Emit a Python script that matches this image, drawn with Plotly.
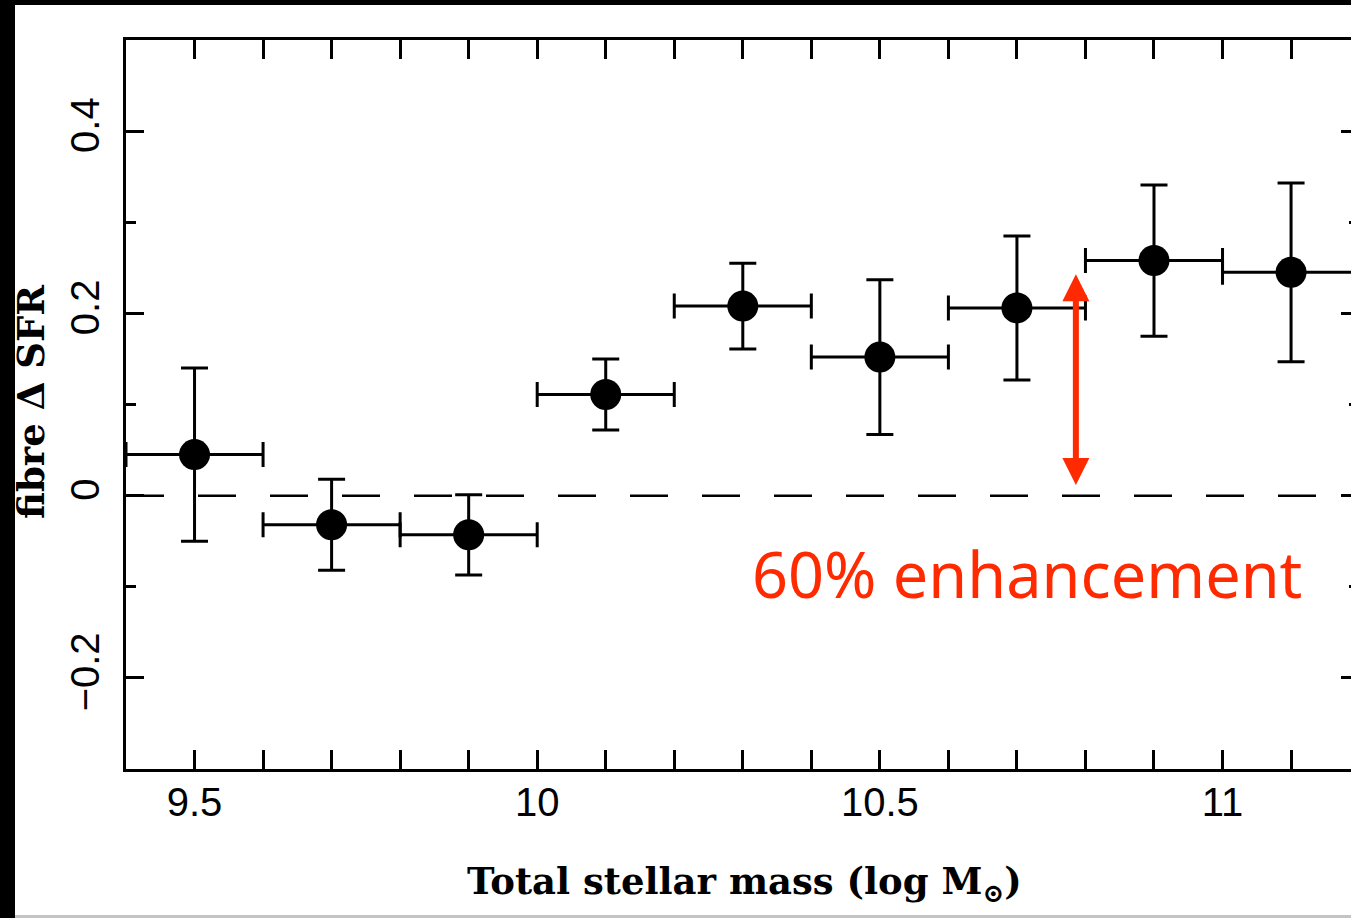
import plotly.graph_objects as go

# Binned total stellar mass (bin centres, half-width of each bin)
mass = [9.5, 9.7, 9.9, 10.1, 10.3, 10.5, 10.7, 10.9, 11.1]
mass_halfwidth = [0.1, 0.1, 0.1, 0.1, 0.1, 0.1, 0.1, 0.1, 0.1]

# Mean fibre delta SFR in each bin and its 1-sigma error
dsfr = [0.045, -0.032, -0.043, 0.111, 0.208, 0.152, 0.206, 0.258, 0.245]
dsfr_err = [0.095, 0.050, 0.044, 0.039, 0.047, 0.085, 0.079, 0.083, 0.098]

# Enhancement arrow (x position, from / to in delta SFR)
arrow_x = 10.786
arrow_from = 0.0
arrow_to = 0.258

x_tickvals = [9.5, 10, 10.5, 11]
x_ticktext = ["9.5", "10", "10.5", "11"]
y_tickvals = [-0.2, 0, 0.2, 0.4]
y_ticktext = ["\u22120.2", "0", "0.2", "0.4"]

W, H = 1351, 918
ML, MT, MB, MR = 126, 40, 149, 0
PW, PH = W - ML - MR, H - MT - MB

X_RANGE = [9.4, 9.4 + PW / 685.33]
Y_RANGE = [-0.3, 0.5]


def px_x(p):
    return (p - ML) / PW


def px_y(p):
    return (H - MB - p) / PH


fig = go.Figure()

fig.add_trace(go.Scatter(
    x=mass, y=dsfr, mode="markers",
    marker=dict(size=31, color="black"),
    error_x=dict(type="data", array=mass_halfwidth, thickness=3, width=12.5, color="black"),
    error_y=dict(type="data", array=dsfr_err, thickness=3, width=13.5, color="black"),
    showlegend=False, hoverinfo="skip",
))
# carrier for the right-hand tick axis
fig.add_trace(go.Scatter(
    x=mass, y=dsfr, yaxis="y2", mode="markers",
    marker=dict(opacity=0), showlegend=False, hoverinfo="skip",
))

axis_font = dict(family="Liberation Sans", size=40, color="black")

fig.update_layout(
    width=W, height=H,
    margin=dict(l=ML, r=MR, t=MT, b=MB, pad=0),
    paper_bgcolor="white", plot_bgcolor="white",
    xaxis=dict(
        range=X_RANGE, showgrid=False, zeroline=False,
        showline=True, linecolor="black", linewidth=3, mirror="allticks",
        ticks="inside", ticklen=19, tickwidth=3, tickcolor="black",
        tickvals=x_tickvals, ticktext=x_ticktext, tickfont=axis_font,
        minor=dict(dtick=0.1, tick0=9.4, ticks="inside", ticklen=10, tickwidth=3, tickcolor="black"),
        ticklabelstandoff=-4,
    ),
    yaxis=dict(
        range=Y_RANGE, showgrid=False, zeroline=False,
        showline=True, linecolor="black", linewidth=3, mirror=False,
        ticks="inside", ticklen=18, tickwidth=3, tickcolor="black",
        tickvals=y_tickvals, ticktext=y_ticktext, tickfont=axis_font,
        tickangle=-90,
        minor=dict(dtick=0.1, tick0=0, ticks="inside", ticklen=10, tickwidth=3, tickcolor="black"),
        ticklabelstandoff=8,
    ),
    yaxis2=dict(
        range=Y_RANGE, overlaying="y", side="right", anchor="x",
        showgrid=False, zeroline=False, showline=False, showticklabels=False,
        ticks="inside", ticklen=10, tickwidth=3, tickcolor="black",
        tickvals=y_tickvals,
        minor=dict(dtick=0.1, tick0=0, ticks="inside", ticklen=2, tickwidth=3, tickcolor="black"),
    ),
)

# dashed zero line
fig.add_shape(type="line", xref="x", yref="y", x0=X_RANGE[0], x1=X_RANGE[1], y0=0, y1=0,
              line=dict(color="black", width=2.5, dash="38px,34px"), layer="below")

# double-headed red arrow
RED = "#ff2a00"
fig.add_annotation(
    x=arrow_x, y=arrow_to - 0.015, ax=arrow_x, ay=arrow_from + 0.01,
    xref="x", yref="y", axref="x", ayref="y",
    showarrow=True, arrowhead=2, startarrowhead=2, arrowside="end+start",
    arrowsize=0.9, startarrowsize=0.9, arrowwidth=6, arrowcolor=RED, text="",
)

fig.add_annotation(
    text="60% enhancement", xref="paper", yref="paper",
    x=px_x(1027), y=px_y(573), xanchor="center", yanchor="middle", showarrow=False,
    font=dict(family="Noto Sans", size=63, color=RED),
)

title_font = dict(family="DejaVu Serif", size=37, color="black", weight="bold")
fig.add_annotation(
    text="Total stellar mass (log M<sub>\u2299</sub>)", xref="paper", yref="paper",
    x=px_x(745), y=px_y(884), xanchor="center", yanchor="middle", showarrow=False,
    font=title_font,
)
fig.add_annotation(
    text="fibre \u0394 SFR", xref="paper", yref="paper", textangle=-90,
    x=px_x(31), y=px_y(402), xanchor="center", yanchor="middle", showarrow=False,
    font=title_font,
)

# slide frame: black top and left bands, grey bottom rule
fig.add_shape(type="rect", xref="paper", yref="paper", x0=px_x(0), x1=px_x(W + 5),
              y0=px_y(5), y1=px_y(-5), fillcolor="black", line=dict(width=0), layer="above")
fig.add_shape(type="rect", xref="paper", yref="paper", x0=px_x(-5), x1=px_x(15),
              y0=px_y(H + 5), y1=px_y(-5), fillcolor="black", line=dict(width=0), layer="above")
fig.add_shape(type="rect", xref="paper", yref="paper", x0=px_x(15), x1=px_x(W + 5),
              y0=px_y(H + 5), y1=px_y(915), fillcolor="#c4c4c4", line=dict(width=0), layer="above")

fig.write_html("out.html")
